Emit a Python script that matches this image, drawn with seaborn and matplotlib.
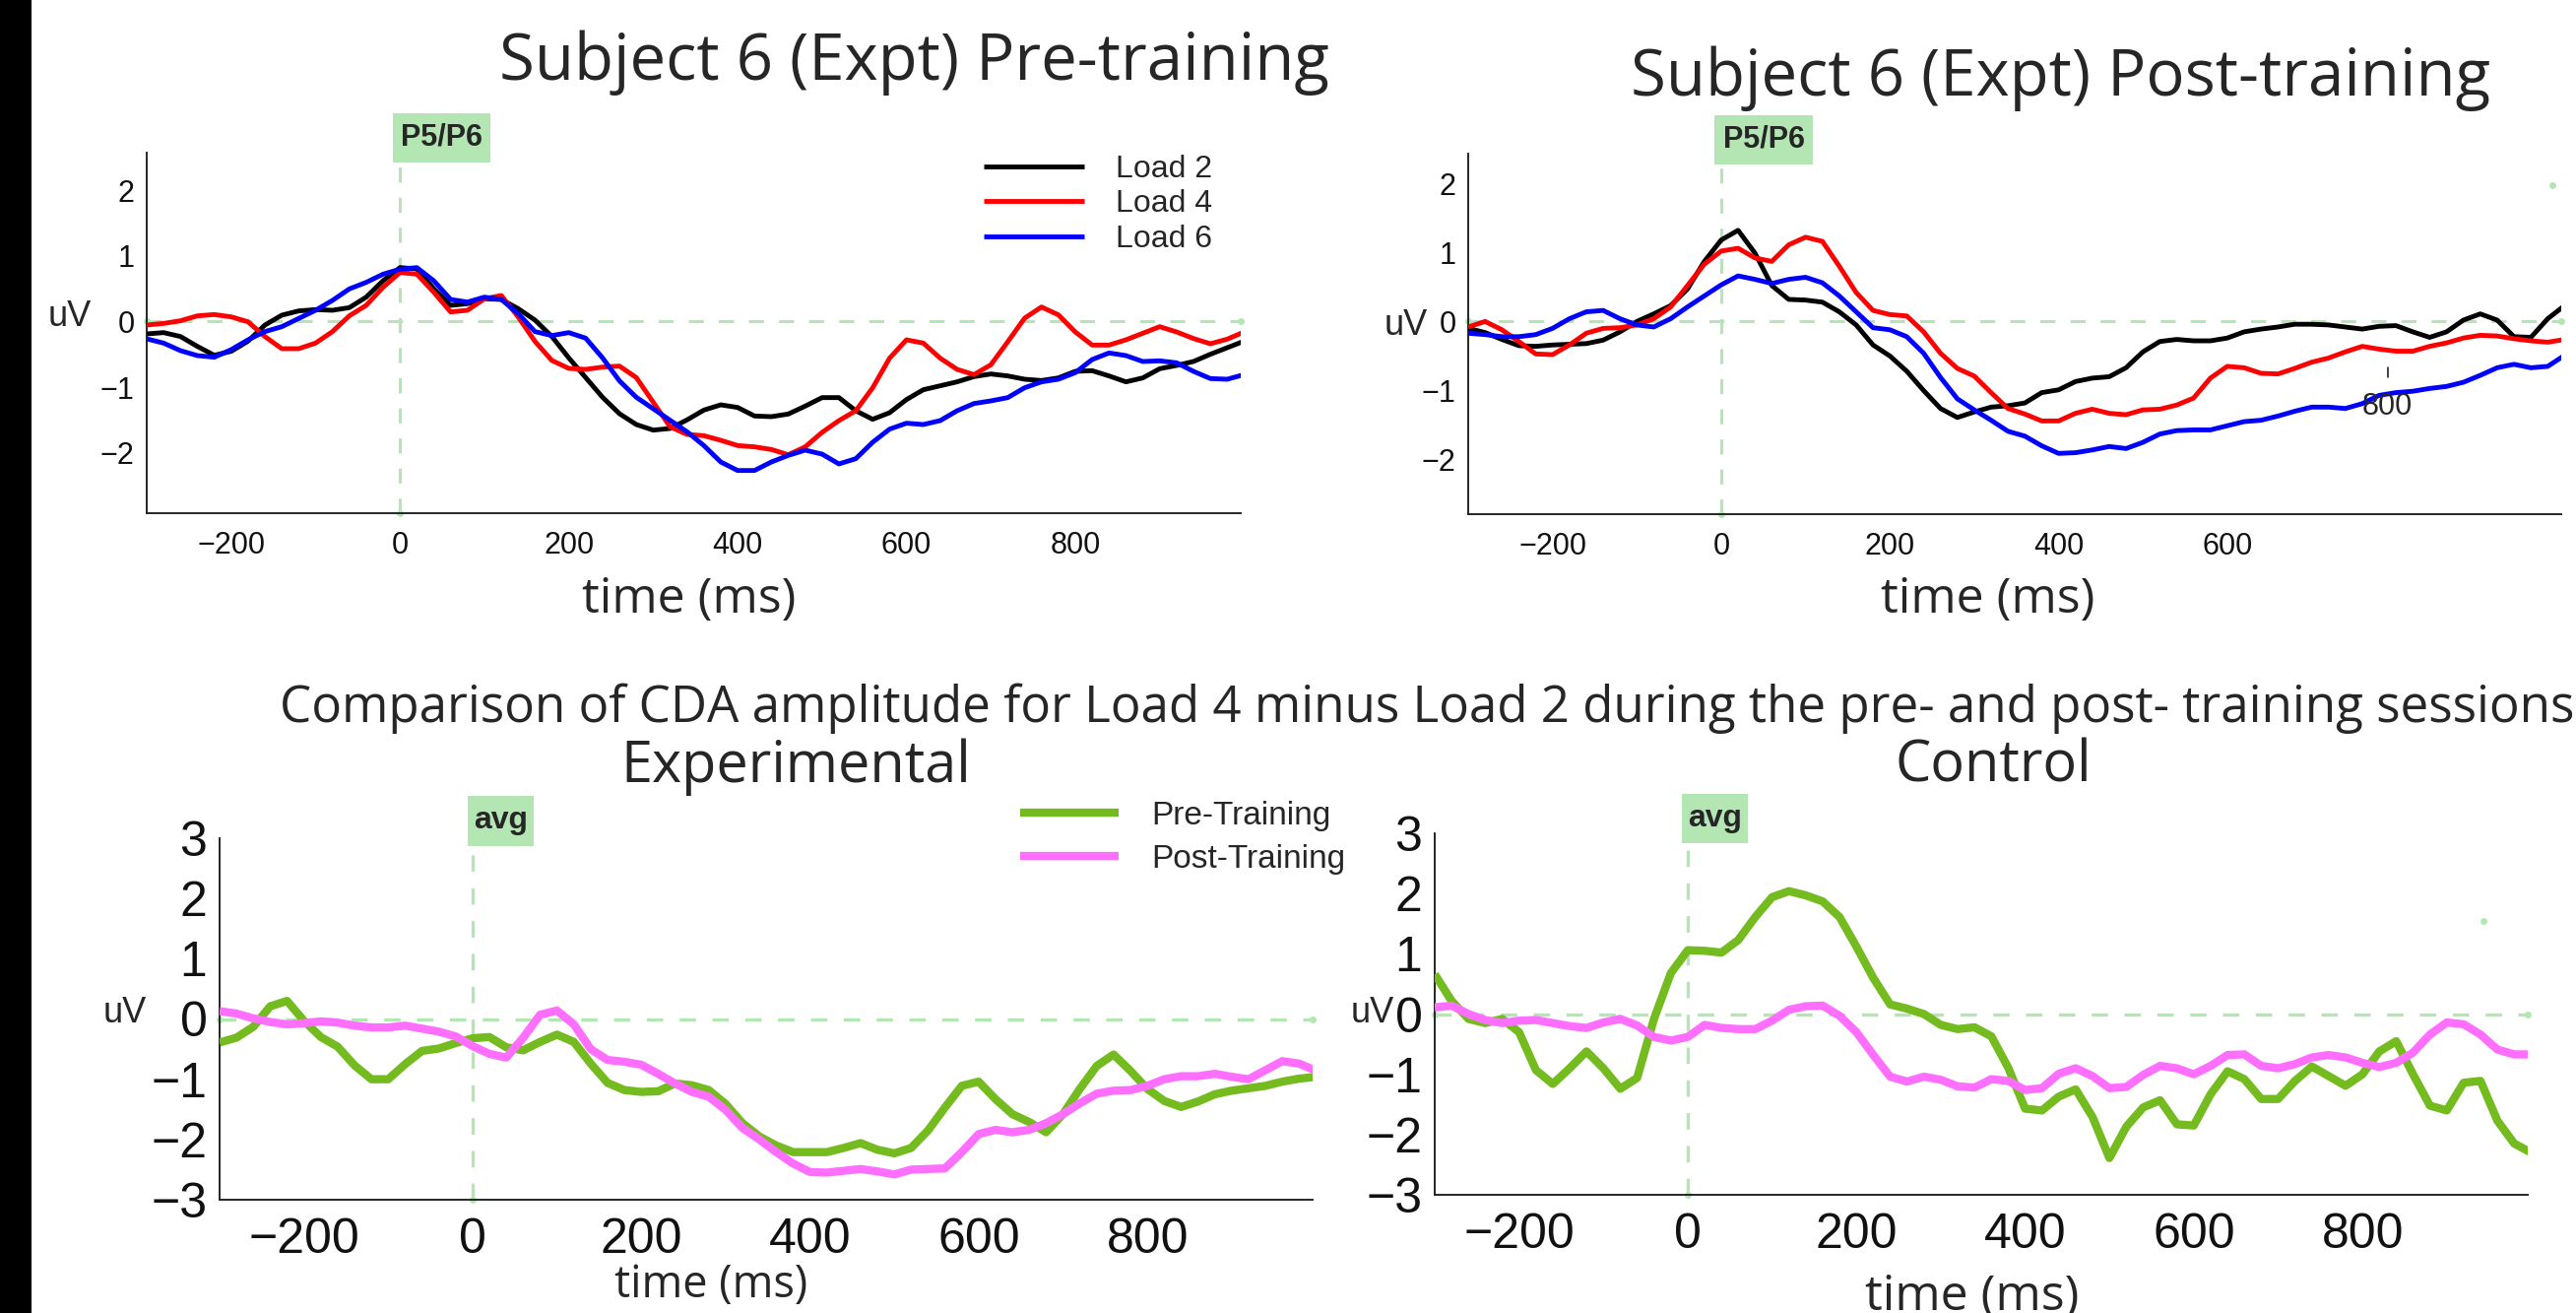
import numpy as np
import matplotlib
matplotlib.use("Agg")
import matplotlib.pyplot as plt
import seaborn as sns
from matplotlib.patches import Rectangle

W, H, DPI = 2616, 1333, 100

# time base (ms), one value every 20 ms
time_ms = np.arange(-300, 1001, 20)

# Subject 6, pre-training (uV)
pre_load2 = [-0.19, -0.17, -0.23, -0.38, -0.515, -0.455, -0.3, -0.055, 0.095, 0.16, 0.18, 0.17, 0.21, 0.37, 0.62,
             0.82, 0.8, 0.5, 0.245, 0.27, 0.345, 0.335, 0.195, 0.02, -0.23, -0.555, -0.855, -1.155, -1.405, -1.57,
             -1.655, -1.63, -1.5, -1.35, -1.27, -1.31, -1.44, -1.45, -1.41, -1.29, -1.16, -1.16, -1.36, -1.49, -1.39,
             -1.19, -1.04, -0.98, -0.92, -0.84, -0.80, -0.83, -0.88, -0.90, -0.86, -0.76, -0.75, -0.83, -0.92, -0.86,
             -0.72, -0.67, -0.61, -0.50, -0.40, -0.30]
pre_load4 = [-0.055, -0.03, 0.01, 0.085, 0.105, 0.07, -0.005, -0.23, -0.415, -0.415, -0.33, -0.155, 0.085, 0.245, 0.52,
             0.745, 0.72, 0.445, 0.145, 0.17, 0.345, 0.395, 0.07, -0.305, -0.595, -0.715, -0.73, -0.695, -0.68, -0.855,
             -1.23, -1.605, -1.72, -1.74, -1.81, -1.89, -1.91, -1.95, -2.03, -1.91, -1.69, -1.51, -1.36, -1.01, -0.56,
             -0.28, -0.33, -0.56, -0.73, -0.81, -0.66, -0.31, 0.05, 0.22, 0.10, -0.16, -0.36, -0.36, -0.28, -0.18,
             -0.08, -0.16, -0.26, -0.34, -0.27, -0.16]
pre_load6 = [-0.265, -0.33, -0.445, -0.52, -0.545, -0.43, -0.28, -0.155, -0.08, 0.045, 0.17, 0.32, 0.495, 0.595, 0.72,
             0.795, 0.82, 0.62, 0.335, 0.295, 0.37, 0.335, 0.12, -0.155, -0.215, -0.17, -0.255, -0.555, -0.905, -1.155,
             -1.33, -1.505, -1.68, -1.89, -2.14, -2.27, -2.27, -2.14, -2.04, -1.96, -2.02, -2.17, -2.09, -1.84, -1.64,
             -1.55, -1.57, -1.51, -1.36, -1.25, -1.21, -1.16, -1.01, -0.92, -0.88, -0.78, -0.58, -0.48, -0.52, -0.61,
             -0.60, -0.63, -0.76, -0.87, -0.88, -0.81]

# Subject 6, post-training (uV)
post_load2 = [-0.10, -0.16, -0.26, -0.35, -0.36, -0.34, -0.33, -0.32, -0.27, -0.15, 0.0, 0.11, 0.23, 0.47, 0.87,
              1.18, 1.32, 0.99, 0.52, 0.32, 0.31, 0.28, 0.14, -0.05, -0.34, -0.50, -0.72, -1.00, -1.26, -1.39,
              -1.31, -1.24, -1.22, -1.18, -1.03, -0.99, -0.87, -0.82, -0.80, -0.67, -0.44, -0.29, -0.26, -0.28, -0.28,
              -0.24, -0.15, -0.11, -0.08, -0.04, -0.04, -0.05, -0.08, -0.11, -0.07, -0.06, -0.15, -0.23, -0.15, 0.02,
              0.11, 0.02, -0.22, -0.23, 0.04, 0.23]
post_load4 = [-0.08, 0.0, -0.12, -0.29, -0.47, -0.48, -0.34, -0.17, -0.10, -0.09, -0.05, 0.04, 0.21, 0.52, 0.83,
              1.02, 1.06, 0.92, 0.87, 1.11, 1.22, 1.16, 0.80, 0.42, 0.16, 0.10, 0.08, -0.15, -0.46, -0.68,
              -0.79, -1.03, -1.26, -1.34, -1.44, -1.44, -1.33, -1.27, -1.33, -1.35, -1.28, -1.27, -1.21, -1.11, -0.82,
              -0.65, -0.67, -0.75, -0.76, -0.68, -0.59, -0.53, -0.44, -0.36, -0.40, -0.43, -0.43, -0.36, -0.31, -0.24,
              -0.20, -0.21, -0.25, -0.28, -0.30, -0.26]
post_load6 = [-0.17, -0.19, -0.22, -0.22, -0.19, -0.10, 0.04, 0.14, 0.16, 0.04, -0.05, -0.08, 0.04, 0.21, 0.37,
              0.53, 0.66, 0.61, 0.55, 0.61, 0.64, 0.56, 0.37, 0.14, -0.09, -0.12, -0.22, -0.46, -0.81, -1.12,
              -1.28, -1.43, -1.59, -1.66, -1.80, -1.91, -1.90, -1.86, -1.81, -1.84, -1.75, -1.63, -1.58, -1.57, -1.57,
              -1.51, -1.45, -1.43, -1.37, -1.30, -1.24, -1.24, -1.26, -1.19, -1.07, -1.03, -1.01, -0.97, -0.94, -0.88,
              -0.78, -0.67, -0.62, -0.67, -0.65, -0.49]

# Load 4 minus Load 2, experimental group (uV)
expt_pre = [-0.39, -0.31, -0.13, 0.21, 0.30, -0.03, -0.30, -0.46, -0.77, -1.00, -1.00, -0.75, -0.53, -0.49, -0.40,
            -0.32, -0.30, -0.47, -0.52, -0.38, -0.26, -0.38, -0.74, -1.06, -1.18, -1.21, -1.20, -1.07, -1.10, -1.18,
            -1.41, -1.73, -1.95, -2.10, -2.21, -2.21, -2.21, -2.14, -2.06, -2.17, -2.23, -2.14, -1.85, -1.47, -1.11,
            -1.04, -1.33, -1.58, -1.71, -1.88, -1.58, -1.16, -0.78, -0.59, -0.86, -1.16, -1.36, -1.46, -1.37, -1.25,
            -1.19, -1.15, -1.11, -1.04, -0.99, -0.96]
expt_post = [0.13, 0.09, 0.01, -0.05, -0.09, -0.07, -0.04, -0.06, -0.11, -0.14, -0.14, -0.11, -0.16, -0.21, -0.29,
             -0.45, -0.58, -0.64, -0.31, 0.07, 0.14, -0.09, -0.50, -0.68, -0.71, -0.76, -0.91, -1.07, -1.21, -1.29,
             -1.51, -1.81, -2.00, -2.21, -2.40, -2.54, -2.55, -2.52, -2.49, -2.53, -2.58, -2.50, -2.49, -2.48, -2.21,
             -1.91, -1.84, -1.88, -1.84, -1.73, -1.58, -1.40, -1.24, -1.19, -1.18, -1.11, -1.00, -0.95, -0.95, -0.91,
             -0.96, -1.00, -0.85, -0.70, -0.74, -0.86]

# Load 4 minus Load 2, control group (uV)
ctrl_pre = [0.66, 0.22, -0.08, -0.15, -0.08, -0.30, -0.93, -1.16, -0.90, -0.62, -0.90, -1.24, -1.06, -0.08, 0.68,
            1.06, 1.05, 1.02, 1.23, 1.61, 1.94, 2.04, 1.97, 1.87, 1.61, 1.12, 0.60, 0.16, 0.09, 0.00,
            -0.18, -0.25, -0.22, -0.37, -0.89, -1.57, -1.60, -1.37, -1.25, -1.71, -2.39, -1.87, -1.55, -1.43, -1.83,
            -1.85, -1.33, -0.95, -1.08, -1.41, -1.41, -1.11, -0.87, -1.03, -1.19, -1.00, -0.62, -0.45, -1.00, -1.52,
            -1.60, -1.14, -1.11, -1.77, -2.15, -2.30]
ctrl_post = [0.11, 0.14, 0.00, -0.10, -0.15, -0.11, -0.10, -0.15, -0.20, -0.23, -0.14, -0.08, -0.19, -0.38, -0.44,
             -0.38, -0.18, -0.23, -0.25, -0.25, -0.11, 0.07, 0.13, 0.14, -0.03, -0.30, -0.68, -1.04, -1.12, -1.04,
             -1.09, -1.20, -1.22, -1.08, -1.11, -1.26, -1.23, -0.99, -0.90, -1.03, -1.23, -1.21, -1.01, -0.86, -0.90,
             -1.00, -0.86, -0.68, -0.67, -0.86, -0.90, -0.83, -0.72, -0.68, -0.72, -0.81, -0.88, -0.81, -0.64, -0.34,
             -0.14, -0.17, -0.34, -0.59, -0.67, -0.67]

LOAD_COLORS = {"Load 2": "#000000", "Load 4": "#ff0000", "Load 6": "#0000ff"}
PRE_GREEN, POST_PINK = "#74bb1f", "#ff6fff"
REF_GREEN = "#b4e6b4"
SANS = ["Liberation Sans", "DejaVu Sans"]
TITLE_FONT = ["Open Sans", "DejaVu Sans"]

sns.set_style("white")
plt.rcParams["font.family"] = SANS


def rect(l, t, r, b):
    return [l / W, 1 - b / H, (r - l) / W, (b - t) / H]


def ftext(fig, x, y, s, **kw):
    fig.text(x / W, 1 - y / H, s, **kw)


def green_box(fig, l, t, r, b, label, size):
    fig.add_artist(Rectangle((l / W, 1 - b / H), (r - l) / W, (b - t) / H,
                             transform=fig.transFigure, color=REF_GREEN, lw=0, zorder=5))
    ftext(fig, (l + r) / 2, (t + b) / 2, label, ha="center", va="center", fontsize=size,
          fontweight="bold", family=SANS, zorder=6)


def style_axes(ax, ylim, yticks, xticks, tsize, box_frac, lw_ref):
    ax.set_xlim(-300, 996)
    ax.set_ylim(*ylim)
    ax.set_yticks(yticks)
    ax.set_xticks(xticks)
    sns.despine(ax=ax)
    for s in ("left", "bottom"):
        ax.spines[s].set_linewidth(1.4)
        ax.spines[s].set_color("#262626")
    ax.tick_params(direction="in", length=8, width=1.1, colors="#111111", labelsize=tsize)
    ax.tick_params(axis="x", pad=13)
    ax.tick_params(axis="y", pad=9)
    ax.axhline(0, color=REF_GREEN, lw=lw_ref, ls=(0, (5, 5)), zorder=1)
    ax.axvline(0, ymin=0, ymax=box_frac, color=REF_GREEN, lw=lw_ref, ls=(0, (5, 5)), zorder=1)
    ax.plot([-300, 996], [0, 0], "o", color=REF_GREEN, ms=4, clip_on=False, zorder=1)
    ax.plot([0], [ylim[0]], "o", color=REF_GREEN, ms=4, clip_on=False, zorder=1)


def draw_lines(ax, series, colors, lw):
    for name, vals in series.items():
        sns.lineplot(x=time_ms, y=vals, color=colors[name], lw=lw, label=name, ax=ax,
                     solid_joinstyle="round", solid_capstyle="butt", zorder=3)


fig = plt.figure(figsize=(W / DPI, H / DPI), dpi=DPI)

# black strip on the left edge
fig.add_artist(Rectangle((0, 0), 32 / W, 1, transform=fig.transFigure, color="black", lw=0))

# ---- top left: pre-training
ax1 = fig.add_axes(rect(149, 155, 1260, 521))
draw_lines(ax1, {"Load 2": pre_load2, "Load 4": pre_load4, "Load 6": pre_load6}, LOAD_COLORS, 3.5)
style_axes(ax1, (-2.92, 2.57), [-2, -1, 0, 1, 2], [-200, 0, 200, 400, 600, 800], 22, 0.973, 2.2)
ax1.legend(loc="upper left", bbox_to_anchor=(999 / W, 1 - 157 / H), bbox_transform=fig.transFigure,
           frameon=False, fontsize=23, handlelength=3.2, handletextpad=1.0, borderpad=0,
           borderaxespad=0, labelspacing=0.17)

# ---- top right: post-training
ax2 = fig.add_axes(rect(1491, 156, 2601, 522))
draw_lines(ax2, {"Load 2": post_load2, "Load 4": post_load4, "Load 6": post_load6}, LOAD_COLORS, 3.5)
style_axes(ax2, (-2.79, 2.43), [-2, -1, 0, 1, 2], [-200, 0, 200, 400, 600], 22, 0.973, 2.2)
ax2.get_legend().remove()
ax2.plot([790, 790], [-0.67, -0.81], color="#111111", lw=1.1)
ax2.text(790, -1.23, "800", ha="center", va="center", fontsize=22)
ax2.plot([985], [1.97], "o", color=REF_GREEN, ms=4)

# ---- bottom left: experimental
ax3 = fig.add_axes(rect(223, 851, 1333, 1218))
draw_lines(ax3, {"Pre-Training": expt_pre, "Post-Training": expt_post},
           {"Pre-Training": PRE_GREEN, "Post-Training": POST_PINK}, 6)
style_axes(ax3, (-3, 3), [-3, -2, -1, 0, 1, 2, 3], [-200, 0, 200, 400, 600, 800], 36, 0.978, 2.4)
ax3.legend(loc="upper left", bbox_to_anchor=(1036 / W, 1 - 813 / H), bbox_transform=fig.transFigure,
           frameon=False, fontsize=24, handlelength=3.0, handletextpad=1.0, borderpad=0,
           borderaxespad=0, labelspacing=0.38)

# ---- bottom right: control
ax4 = fig.add_axes(rect(1457, 846, 2567, 1213))
draw_lines(ax4, {"Pre-Training": ctrl_pre, "Post-Training": ctrl_post},
           {"Pre-Training": PRE_GREEN, "Post-Training": POST_PINK}, 6)
style_axes(ax4, (-3, 3), [-3, -2, -1, 0, 1, 2, 3], [-200, 0, 200, 400, 600, 800], 36, 0.978, 2.4)
ax4.get_legend().remove()
ax4.plot([944], [1.55], "o", color=REF_GREEN, ms=4)

# axis labels
for ax, (l, t, r, b), (lx, ly), (ux, uy), lsize in [
    (ax1, (149, 155, 1260, 521), (700, 622), (71, 321), 36),
    (ax2, (1491, 156, 2601, 522), (2019, 622), (1428, 330), 36),
    (ax3, (223, 851, 1333, 1218), (722, 1317), (127, 1029), 32.5),
    (ax4, (1457, 846, 2567, 1213), (2003, 1330), (1394, 1029), 36),
]:
    ax.set_xlabel("time (ms)", fontsize=lsize, family=TITLE_FONT, va="baseline")
    ax.xaxis.set_label_coords((lx - l) / (r - l), (b - ly) / (b - t))
    ax.set_ylabel("uV", fontsize=26, rotation=0, ha="center", va="center")
    ax.yaxis.set_label_coords((ux - l) / (r - l), (b - uy) / (b - t))

# titles
ftext(fig, 928, 81, "Subject 6 (Expt) Pre-training", ha="center", va="baseline", fontsize=47, family=TITLE_FONT)
ftext(fig, 2093, 97, "Subject 6 (Expt) Post-training", ha="center", va="baseline", fontsize=47, family=TITLE_FONT)
ftext(fig, 1449, 733, "Comparison of CDA amplitude for Load 4 minus Load 2 during the pre- and post- training sessions",
      ha="center", va="baseline", fontsize=36.8, family=TITLE_FONT)
ftext(fig, 808, 794, "Experimental", ha="center", va="baseline", fontsize=41.5, family=TITLE_FONT)
ftext(fig, 2024, 794, "Control", ha="center", va="baseline", fontsize=41.5, family=TITLE_FONT)

# channel boxes
green_box(fig, 399, 115, 498, 165, "P5/P6", 22)
green_box(fig, 1741, 117, 1841, 167, "P5/P6", 22)
green_box(fig, 475, 808, 542, 859, "avg", 23)
green_box(fig, 1708, 806, 1775, 856, "avg", 23)

fig.savefig("out.png", dpi=DPI)
